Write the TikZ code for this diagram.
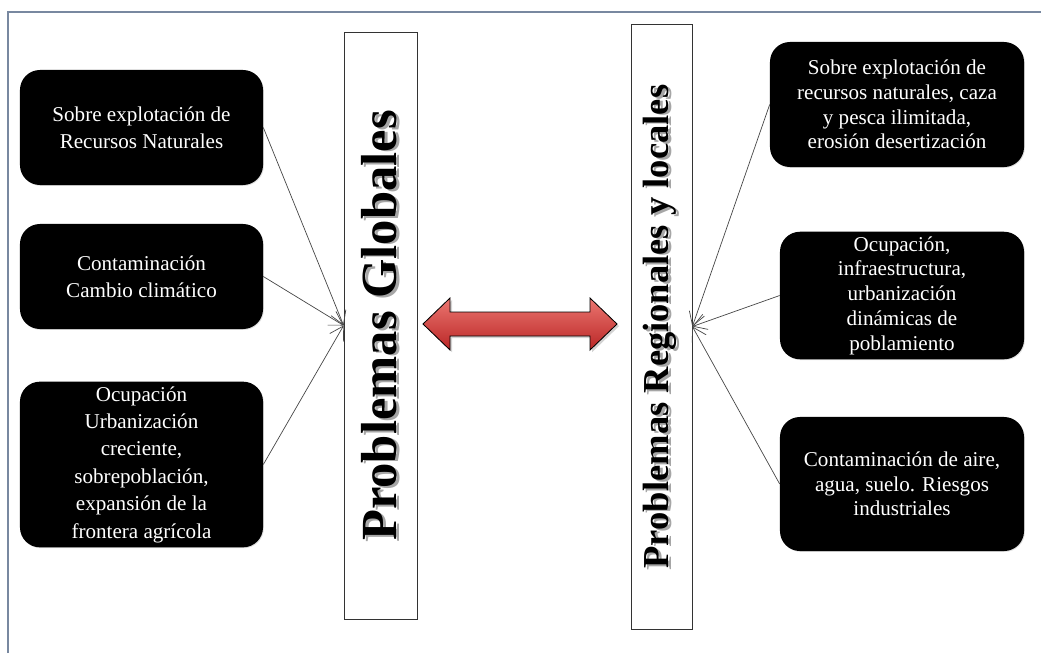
\documentclass[tikz,border=0pt]{standalone}
\usepackage{fontspec}
\setmainfont{Liberation Serif}
\usepackage{xcolor}
\usetikzlibrary{positioning, arrows.meta, shadows}

\definecolor{framegray}{RGB}{120,136,160}
\definecolor{arrowtop}{RGB}{236,118,112}
\definecolor{arrowbot}{RGB}{185,38,38}
\definecolor{linkgray}{RGB}{70,70,70}

\newcommand{\shadowtext}[1]{\makebox[0pt][l]{\hspace{-1.2pt}\raisebox{-2.4pt}{\color{black!35}#1}}#1}

\begin{document}
\begin{tikzpicture}[x=0.025cm, y=-0.025cm]
  \tikzset{
    frame/.style={draw=framegray, line width=1.3pt},
    leftbox/.style={fill=black, text=white, rounded corners=0.5cm, align=center,
      minimum width=6.075cm, font=\fontsize{15}{19.5}\selectfont,
      drop shadow={opacity=0.25, shadow xshift=0.6pt, shadow yshift=-0.6pt}},
    rightbox/.style={leftbox, font=\fontsize{15}{17.6}\selectfont, minimum width=6.1cm},
    bigbar/.style={draw=black!80, line width=0.5pt, fill=white, rotate=90, inner sep=0pt},
    feed/.style={draw=linkgray, line width=0.5pt, -{Straight Barb[length=3.3mm, width=4mm]}},
    link/.style={draw=black, line width=0.6pt, top color=arrowtop, bottom color=arrowbot,
      drop shadow={opacity=0.35, shadow xshift=1.5pt, shadow yshift=-1.5pt}},
  }
  \useasboundingbox (0,0) rectangle (1044,653);

  %% outer frame (top and left only)
  \draw[frame] (8,653) -- (8,12) -- (1041,12);

  %% central bars
  \node[bigbar, minimum width=14.675cm, minimum height=1.825cm,
    font=\fontsize{36}{36}\selectfont\bfseries] (glob) at (380.5,325.5)
    {\shadowtext{Problemas Globales}};
  \node[bigbar, minimum width=15.125cm, minimum height=1.525cm,
    font=\fontsize{26}{26}\selectfont\bfseries] (reg) at (661.5,326.5)
    {\shadowtext{Problemas Regionales y locales}};

  %% left column: global problems
  \node[leftbox, minimum height=2.875cm] (gA) at (141.5,127.5)
    {Sobre explotación de\\Recursos Naturales};
  \node[leftbox, minimum height=2.625cm] (gB) at (141.5,276.5)
    {Contaminación\\Cambio climático};
  \node[leftbox, minimum height=3.825cm] (gC) at (141.5,464.5)
    {Ocupación\\Urbanización\\creciente,\\sobrepoblación,\\expansión de la\\frontera agrícola};

  %% right column: regional and local problems
  \node[rightbox, minimum width=6.35cm, minimum height=3.125cm] (rA) at (897,104.5)
    {Sobre explotación de\\recursos naturales, caza\\y pesca ilimitada,\\erosión desertización};
  \node[rightbox, minimum height=3.075cm] (rB) at (902,295.5)
    {Ocupación,\\infraestructura,\\urbanización\\dinámicas de\\poblamiento};
  \node[rightbox, minimum height=3.35cm] (rC) at (902,484)
    {Contaminación de aire,\\agua, suelo. Riesgos\\industriales};

  %% connectors
  \foreach \src in {gA, gB, gC} \draw[feed] (\src.east) -- (glob.north);
  \foreach \src in {rA, rB, rC} \draw[feed] (\src.west) -- (reg.south);

  %% double arrow between the bars
  \path[link] (423,324) -- (450,298) -- (450,312) -- (590,312) -- (590,298)
    -- (617,324) -- (590,350) -- (590,336) -- (450,336) -- (450,350) -- cycle;
\end{tikzpicture}
\end{document}
